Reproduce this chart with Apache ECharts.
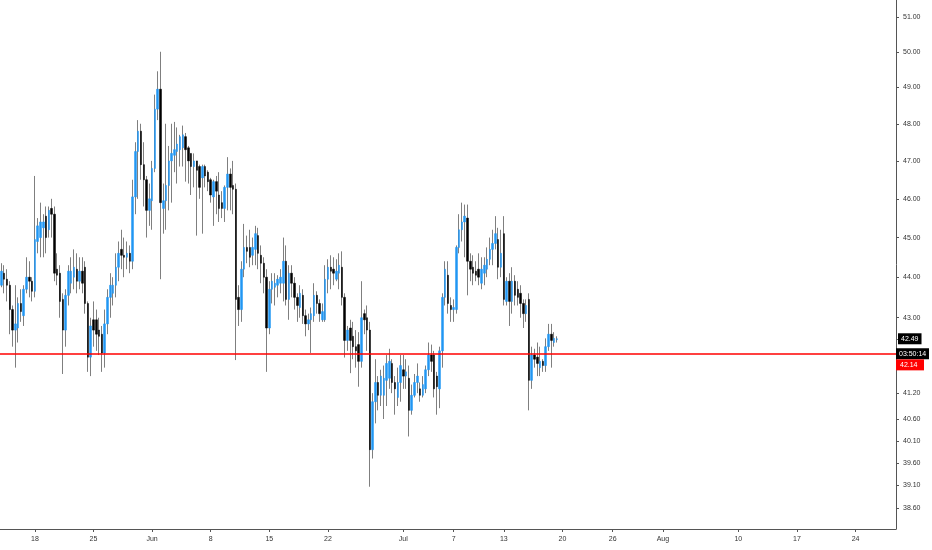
<!DOCTYPE html>
<html><head><meta charset="utf-8">
<script src="https://cdn.jsdelivr.net/npm/echarts@6/dist/echarts.min.js"></script>
<style>html,body{margin:0;padding:0;background:#fff}#c{width:932px;height:550px}</style>
</head><body><div id="c"></div>
<script>
// ---- data ----
const startDay = '2020-05-14';
const slotsPerDay = 3;          // 8-hour candles
const slotCount = 321;          // visible slots (data + empty right margin)
const tickDates = ['05-18','05-25','06-01','06-08','06-15','06-22','07-01','07-07','07-13','07-20','07-26','08-01','08-10','08-17','08-24'];
const tickLabels = ['18','25','Jun','8','15','22','Jul','7','13','20','26','Aug','10','17','24'];
const priceTicks = [51,50,49,48,47,46,45,44,43,42.49,41.2,40.6,40.1,39.6,39.1,38.6];
const lastPrice = 42.49;
const levelPrice = 42.14;
const countdown = '03:50:14';
const yMin = 38.145, yMax = 51.49;
// [open, close, low, high]
const ohlc = [
[43.8,44.15,43.75,44.35],[44.1,43.95,43.6,44.3],[43.95,43.8,43.4,44.2],[43.8,43.2,42.6,43.9],[43.2,42.7,42.3,43.3],
[42.7,42.85,41.8,43.8],[42.75,43.35,42.4,43.5],[43.35,43.15,42.9,43.7],[43.05,43.7,42.8,43.8],[43.7,44.0,43.6,44.5],
[44.0,43.9,43.5,44.4],[43.9,43.65,43.4,44.0],[43.65,44.95,43.5,46.6],[44.9,45.3,44.6,45.5],[45.0,45.4,44.5,45.9],
[45.25,45.4,44.5,45.6],[45.55,45.0,44.6,45.8],[45.2,45.7,45.0,45.8],[45.75,45.6,45.0,46.0],[45.6,44.1,43.9,45.8],
[44.2,44.05,43.8,44.6],[44.1,43.4,43.0,44.3],[43.45,42.7,41.65,43.6],[42.7,43.55,42.3,43.7],[43.55,44.15,43.3,44.3],
[43.85,44.15,43.6,44.5],[44.0,44.25,43.7,44.7],[44.2,43.9,43.6,44.6],[43.9,44.15,43.7,44.5],[44.15,43.85,43.6,44.5],
[44.25,43.35,43.1,44.4],[43.35,42.05,41.7,43.4],[42.05,42.8,41.6,43.0],[42.95,42.7,42.3,43.4],[42.95,42.6,42.2,43.2],
[42.7,42.55,42.1,43.0],[42.6,42.15,41.7,42.8],[42.15,42.85,41.8,43.2],[42.85,43.5,42.6,43.7],[43.5,43.8,43.0,44.1],
[43.6,43.8,43.3,44.0],[43.8,44.25,43.5,44.6],[44.25,44.6,43.9,44.9],[44.7,44.55,44.2,45.2],[44.55,44.5,44.0,45.0],
[44.5,44.6,44.2,44.9],
[44.6,44.4,44.1,44.8],[44.4,46.05,44.2,46.5],[46.05,47.25,45.6,47.5],[47.25,47.8,46.0,48.1],[47.8,46.9,46.5,48.0],
[46.9,46.5,45.8,47.5],[46.5,45.7,45.0,46.6],[45.7,46.0,45.3,46.4],[45.95,46.8,45.2,47.0],[46.8,48.4,46.7,48.8],
[48.4,48.95,48.1,49.45],[48.95,45.9,43.95,50.0],[45.75,45.95,45.1,46.4],[45.95,46.35,45.2,48.0],[46.35,47.0,45.7,47.4],
[47.0,47.2,45.9,48.0],[47.15,47.3,46.7,48.05],[47.25,47.45,46.4,47.9],[47.3,47.65,46.85,47.7],[47.35,47.7,46.85,47.95],
[47.65,47.3,46.45,47.75],[47.35,47.0,46.4,47.4],[47.2,46.85,46.1,47.2],[46.85,47.0,46.3,47.2],[47.0,46.75,45.05,47.0],
[46.85,46.3,46.0,46.9],[46.55,46.85,45.1,46.9],[46.85,46.6,46.3,46.9],[46.7,46.45,46.2,46.75],[46.5,46.1,45.9,46.55],
[46.05,46.45,45.3,46.5],[46.45,46.2,45.6,46.6],[46.1,45.75,45.4,46.7],[45.9,45.75,45.5,46.2],[45.75,46.3,45.4,46.35],
[46.3,46.65,45.7,47.1],[46.65,46.3,45.7,46.8],[46.35,46.25,45.6,47.0],[46.25,43.45,41.98,46.4],
[43.5,43.2,42.8,43.8],[43.2,44.2,42.9,44.4],[44.2,44.75,44.0,45.35],[44.75,44.65,44.35,45.05],[44.75,44.5,44.25,45.2],
[44.55,44.75,44.3,45.0],[44.7,45.1,44.3,45.3],[45.05,44.6,44.2,45.25],[44.55,44.35,43.85,44.8],[44.35,44.0,43.6,44.5],
[44.0,42.75,41.7,44.2],[42.75,43.7,42.6,43.9],[43.7,43.9,43.35,44.1],[43.75,43.85,43.3,44.1],[43.8,43.95,43.5,44.05],
[43.85,44.0,43.6,44.2],[43.85,44.4,43.4,45.0],[44.4,43.45,43.3,44.8],[43.45,44.1,42.95,44.3],[44.1,43.85,43.5,44.3],
[43.85,43.5,43.2,44.0],[43.5,43.3,42.9,43.6],[43.25,43.6,43.0,43.8],[43.55,43.05,42.85,43.7],[43.05,42.85,42.55,43.2],
[42.85,42.95,42.7,43.1],[42.95,43.1,42.15,43.25],[43.05,43.55,42.9,43.85],[43.55,43.35,43.1,43.65],[43.35,43.1,42.9,43.45],
[42.95,43.15,42.9,43.35],[42.95,43.95,42.9,44.3],[43.95,44.25,43.6,44.45],[44.25,44.15,43.7,44.55],[44.2,44.1,43.8,44.5],
[43.95,44.15,43.9,44.45],[44.1,44.3,43.7,44.6],[44.25,43.5,43.3,44.65],[43.5,42.45,42.04,43.6],[42.45,42.7,42.2,42.8],
[42.75,42.45,41.67,42.95],[42.55,42.3,42.0,42.9],[42.3,42.2,41.8,42.7],[42.35,41.95,41.35,42.65],[41.95,43.0,41.8,43.9],
[43.1,42.95,42.6,43.2],[43.0,42.7,42.2,43.3],[42.7,39.9,39.07,42.9],[39.9,41.0,39.7,41.2],[41.0,41.45,40.5,42.0],
[41.45,41.15,40.8,41.6],[41.15,41.6,40.9,41.75],[41.15,41.55,40.6,41.85],[41.5,41.9,40.9,42.1],[41.55,41.95,41.3,42.25],
[41.9,41.45,41.2,42.0],[41.45,41.3,40.7,41.6],[41.1,41.45,40.9,41.8],[41.45,41.85,41.0,42.1],[41.75,41.6,41.3,42.1],
[41.6,41.7,41.3,42.0],[41.55,40.8,40.2,41.85],[40.8,41.15,40.7,41.4],[41.15,41.45,41.1,41.65],[41.45,41.6,41.2,41.9],
[41.3,41.15,41.0,41.45],[41.15,41.4,41.1,41.6],[41.3,41.75,41.2,41.85],[41.75,42.1,41.6,42.4],[42.1,41.95,41.7,42.35],
[42.1,41.3,41.1,42.2],[41.6,41.35,40.7,41.7],[41.3,42.2,40.85,42.3],[42.2,43.5,41.8,43.6],[43.5,44.2,43.3,44.4],
[44.05,43.35,43.1,44.4],[43.3,43.2,42.9,43.5],[43.2,43.25,42.9,43.45],[43.2,44.75,43.1,44.8],[44.75,45.2,44.6,45.6],
[45.2,45.4,44.9,45.9],[45.4,45.55,44.5,45.85],[45.5,44.4,43.55,45.85],[44.4,44.2,43.9,44.6],[44.25,44.1,43.8,44.55],
[44.15,44.05,43.9,44.4],[44.2,44.0,43.8,44.6],[43.85,44.2,43.7,44.5],[44.1,44.3,43.8,44.5],[44.2,44.45,44.0,44.75],
[44.45,44.7,44.3,45.0],[44.7,44.85,44.3,45.2],[44.85,45.1,44.7,45.55],[44.95,44.25,43.95,45.25],[44.25,44.6,44.0,45.2],
[45.1,43.45,43.3,45.55],[43.4,43.9,43.3,44.0],[43.9,43.4,42.8,44.1],[43.4,43.9,43.1,44.25],[43.9,43.55,43.3,44.05],
[43.7,43.5,43.3,43.9],[43.6,43.35,43.0,43.8],[43.35,43.1,42.75,43.45],[43.1,43.3,42.9,43.45],[43.45,41.5,40.8,43.6],
[41.5,42.1,41.3,42.3],[42.1,42.0,41.8,42.25],[42.05,41.9,41.6,42.4],[41.8,41.95,41.6,42.3],[41.95,41.85,41.7,42.0],
[41.85,42.3,41.7,42.5],[42.3,42.6,42.2,42.85],[42.6,42.45,41.8,42.85],[42.4,42.5,42.3,42.65],[42.47,42.49,42.4,42.55]
];

// ---- build categories (8h slots) ----
const categories = [];
const t0 = Date.parse(startDay + 'T00:00:00Z');
for (let i = 0; i < slotCount; i++) {
  const d = new Date(t0 + i * 86400000 / slotsPerDay);
  const mm = String(d.getUTCMonth() + 1).padStart(2, '0');
  const dd = String(d.getUTCDate()).padStart(2, '0');
  const hh = String(d.getUTCHours()).padStart(2, '0');
  categories.push(mm + '-' + dd + ' ' + hh);
}
const tickMap = {};
tickDates.forEach((d, i) => { tickMap[d + ' 00'] = tickLabels[i]; });
const isTick = (idx, val) => tickMap.hasOwnProperty(val);

const wickData = ohlc.map(d => [d[0], d[1], d[2], d[3]]);
const bodyData = ohlc.map(d => [d[0], d[1], Math.min(d[0], d[1]), Math.max(d[0], d[1])]);

const FONT = 'Liberation Sans';
const chart = echarts.init(document.getElementById('c'), null, {renderer: 'canvas'});
chart.setOption({
  animation: false,
  backgroundColor: '#ffffff',
  grid: {left: 0, right: 36, top: 0, bottom: 21, containLabel: false},
  xAxis: {
    type: 'category',
    data: categories,
    boundaryGap: true,
    axisLine: {show: true, lineStyle: {color: '#555', width: 1}},
    axisTick: {show: true, interval: isTick, alignWithLabel: true, length: 3, lineStyle: {color: '#555'}},
    axisLabel: {interval: isTick, formatter: v => tickMap[v] || '', fontSize: 7, color: '#333', fontFamily: FONT, margin: 7},
    splitLine: {show: false}
  },
  yAxis: {
    type: 'log',
    logBase: 10,
    position: 'right',
    min: yMin,
    max: yMax,
    axisLine: {show: true, lineStyle: {color: '#555', width: 1}},
    axisTick: {show: true, inside: false, length: 3, customValues: priceTicks, lineStyle: {color: '#555'}},
    axisLabel: {
      customValues: priceTicks,
      fontSize: 7, color: '#333', fontFamily: FONT, margin: 2,
      formatter: v => (Math.abs(v - lastPrice) < 1e-6 ? '{p|' + v.toFixed(2) + '}' : '{n|' + v.toFixed(2) + '}'),
      rich: {
        n: {fontSize: 7, color: '#333', fontFamily: FONT, padding: [0, 0, 0, 5]},
        p: {fontSize: 7, color: '#fff', fontFamily: FONT, backgroundColor: '#000', padding: [2, 3, 2, 3]}
      }
    },
    splitLine: {show: false}
  },
  series: [
    {
      type: 'candlestick',
      name: 'wick',
      data: wickData,
      barWidth: 1,
      itemStyle: {color: '#7f7f7f', color0: '#7f7f7f', borderColor: '#7f7f7f', borderColor0: '#7f7f7f', borderWidth: 1},
      markLine: {
        silent: true,
        symbol: ['none', 'none'],
        data: [{yAxis: levelPrice}],
        lineStyle: {color: '#ff0000', width: 1.5, type: 'solid'},
        label: {
          show: true, position: 'end', distance: 0,
          padding: [12, 0, 0, 0],
          formatter: '{t|' + countdown + '}\n{r|' + levelPrice.toFixed(2) + '}',
          rich: {
            t: {fontSize: 7, color: '#fff', fontFamily: FONT, backgroundColor: '#000', padding: [2, 3, 2, 3], width: 27},
            r: {fontSize: 7, color: '#fff', fontFamily: FONT, backgroundColor: '#ff0000', padding: [2, 3, 2, 4], width: 21}
          }
        }
      },
      z: 2
    },
    {
      type: 'candlestick',
      name: 'body',
      data: bodyData,
      barWidth: 2,
      itemStyle: {color: '#2196f3', color0: '#000000', borderColor: '#2196f3', borderColor0: '#000000', borderWidth: 0.5},
      z: 3
    }
  ]
});
</script>
</body></html>
